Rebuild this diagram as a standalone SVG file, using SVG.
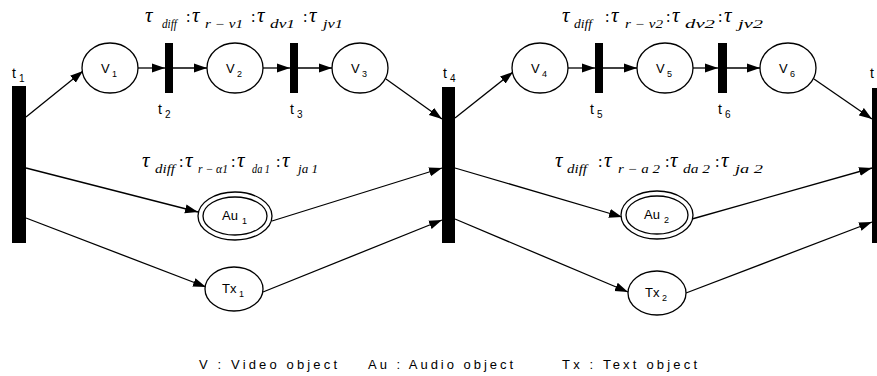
<svg xmlns="http://www.w3.org/2000/svg" width="877" height="376" viewBox="0 0 877 376">
<style>
.bar{fill:#000}
.pl{fill:#fff;stroke:#000;stroke-width:1.3}
.ar{fill:none;stroke:#000;stroke-width:1.3;marker-end:url(#ah)}
.lb{font-family:"Liberation Sans",Arial,sans-serif;font-size:13px;fill:#000}
.sb{font-family:"Liberation Sans",Arial,sans-serif;font-size:9px;fill:#000}
.tl{font-family:"Liberation Sans",Arial,sans-serif;font-size:14px;fill:#000}
.ts{font-family:"Liberation Sans",Arial,sans-serif;font-size:10px;fill:#000}
.tau{font-family:"Liberation Serif","Times New Roman",serif;font-style:italic;font-size:21px;fill:#000}
.tsub{font-family:"Liberation Serif","Times New Roman",serif;font-style:italic;font-size:12px;fill:#000}
.col{font-family:"Liberation Serif","Times New Roman",serif;font-size:16px;fill:#000}
.lg{font-family:"Liberation Sans",Arial,sans-serif;font-size:13px;fill:#000}
</style>
<defs>
<marker id="ah" markerUnits="userSpaceOnUse" markerWidth="14" markerHeight="10" refX="13" refY="5" orient="auto">
<path d="M0,0.5 L13,5 L0,9.5 Z" fill="#000"/>
</marker>
</defs>
<rect width="877" height="376" fill="#fff"/>

<g id="connectors">
<line class="ar" x1="26" y1="117" x2="83" y2="71"/>
<line class="ar" x1="138" y1="68" x2="165" y2="68"/>
<line class="ar" x1="173" y1="68" x2="207" y2="68"/>
<line class="ar" x1="263" y1="68" x2="290" y2="68"/>
<line class="ar" x1="298" y1="68" x2="332" y2="68"/>
<line class="ar" x1="386" y1="79" x2="442" y2="119"/>
<line class="ar" x1="455" y1="118" x2="513" y2="72"/>
<line class="ar" x1="568" y1="68" x2="595" y2="68"/>
<line class="ar" x1="603" y1="68" x2="637" y2="68"/>
<line class="ar" x1="693" y1="68" x2="718" y2="68"/>
<line class="ar" x1="727" y1="68" x2="760" y2="68"/>
<line class="ar" x1="814" y1="79" x2="872" y2="119"/>
<line class="ar" x1="26" y1="168" x2="198" y2="212"/>
<line class="ar" x1="26" y1="218" x2="206" y2="287"/>
<line class="ar" x1="272" y1="221" x2="442" y2="168"/>
<line class="ar" x1="263" y1="292" x2="442" y2="220"/>
<line class="ar" x1="455" y1="168" x2="622" y2="217"/>
<line class="ar" x1="455" y1="219" x2="628" y2="292"/>
<line class="ar" x1="692" y1="219" x2="872" y2="168"/>
<line class="ar" x1="686" y1="293" x2="872" y2="222"/>
</g>

<g id="t1"><rect class="bar" x="12" y="86" width="14" height="157"/><text class="tl" x="12" y="78">t</text><text class="ts" x="19" y="82">1</text></g>
<g id="t2"><rect class="bar" x="165" y="43" width="8" height="50"/><text class="tl" x="158" y="114">t</text><text class="ts" x="165" y="118">2</text></g>
<g id="t3"><rect class="bar" x="290" y="43" width="8" height="50"/><text class="tl" x="290" y="114">t</text><text class="ts" x="297" y="118">3</text></g>
<g id="t4"><rect class="bar" x="442" y="87" width="13" height="156"/><text class="tl" x="443" y="78">t</text><text class="ts" x="450" y="82">4</text></g>
<g id="t5"><rect class="bar" x="595" y="43" width="8" height="50"/><text class="tl" x="590" y="114">t</text><text class="ts" x="597" y="118">5</text></g>
<g id="t6"><rect class="bar" x="718" y="43" width="9" height="50"/><text class="tl" x="718" y="114">t</text><text class="ts" x="725" y="118">6</text></g>
<g id="t7"><rect class="bar" x="872" y="88" width="8" height="155"/><text class="tl" x="870" y="78">t</text></g>

<g id="V1"><ellipse class="pl" cx="110" cy="68" rx="28" ry="25"/><text class="lb" x="101" y="73">V</text><text class="sb" x="112" y="77">1</text></g>
<g id="V2"><ellipse class="pl" cx="235" cy="68" rx="28" ry="25"/><text class="lb" x="226" y="73">V</text><text class="sb" x="237" y="77">2</text></g>
<g id="V3"><ellipse class="pl" cx="360" cy="68" rx="28" ry="25"/><text class="lb" x="351" y="73">V</text><text class="sb" x="362" y="77">3</text></g>
<g id="V4"><ellipse class="pl" cx="540" cy="68" rx="28" ry="25"/><text class="lb" x="531" y="73">V</text><text class="sb" x="542" y="77">4</text></g>
<g id="V5"><ellipse class="pl" cx="665" cy="68" rx="28" ry="25"/><text class="lb" x="656" y="73">V</text><text class="sb" x="667" y="77">5</text></g>
<g id="V6"><ellipse class="pl" cx="788" cy="68" rx="28" ry="25"/><text class="lb" x="779" y="73">V</text><text class="sb" x="790" y="77">6</text></g>

<g id="Au1"><ellipse class="pl" cx="235" cy="216" rx="37" ry="24"/><ellipse class="pl" cx="235" cy="216" rx="32" ry="19"/><text class="lb" x="222" y="220">Au</text><text class="sb" x="242" y="224">1</text></g>
<g id="Tx1"><ellipse class="pl" cx="234" cy="289" rx="29" ry="22"/><text class="lb" x="222" y="293">Tx</text><text class="sb" x="239" y="297">1</text></g>
<g id="Au2"><ellipse class="pl" cx="657" cy="215" rx="36" ry="24"/><ellipse class="pl" cx="657" cy="215" rx="31" ry="19"/><text class="lb" x="644" y="219">Au</text><text class="sb" x="664" y="223">2</text></g>
<g id="Tx2"><ellipse class="pl" cx="657" cy="293" rx="29" ry="22"/><text class="lb" x="645" y="297">Tx</text><text class="sb" x="662" y="301">2</text></g>

<g id="label-v1">
<text class="tau" x="145" y="22">τ</text><text class="tsub" x="162" y="28" textLength="15" lengthAdjust="spacingAndGlyphs">diff</text>
<text class="col" x="186" y="22">:</text><text class="tau" x="192" y="22">τ</text><text class="tsub" x="205" y="28" textLength="38" lengthAdjust="spacingAndGlyphs">r − v1</text>
<text class="col" x="251" y="22">:</text><text class="tau" x="257" y="22">τ</text><text class="tsub" x="270" y="28" textLength="25" lengthAdjust="spacingAndGlyphs">dv1</text>
<text class="col" x="303" y="22">:</text><text class="tau" x="309" y="22">τ</text><text class="tsub" x="323" y="28" textLength="20" lengthAdjust="spacingAndGlyphs">jv1</text>
</g>
<g id="label-v2">
<text class="tau" x="562" y="22">τ</text><text class="tsub" x="574" y="28" textLength="18" lengthAdjust="spacingAndGlyphs">diff</text>
<text class="col" x="605" y="22">:</text><text class="tau" x="611" y="22">τ</text><text class="tsub" x="625" y="28" textLength="38" lengthAdjust="spacingAndGlyphs">r − v2</text>
<text class="col" x="666" y="22">:</text><text class="tau" x="672" y="22">τ</text><text class="tsub" x="685" y="28" textLength="30" lengthAdjust="spacingAndGlyphs">dv2</text>
<text class="col" x="718" y="22">:</text><text class="tau" x="724" y="22">τ</text><text class="tsub" x="738" y="28" textLength="25" lengthAdjust="spacingAndGlyphs">jv2</text>
</g>
<g id="label-a1">
<text class="tau" x="142" y="167">τ</text><text class="tsub" x="155" y="173" textLength="20" lengthAdjust="spacingAndGlyphs">diff</text>
<text class="col" x="179" y="167">:</text><text class="tau" x="185" y="167">τ</text><text class="tsub" x="198" y="173" textLength="30" lengthAdjust="spacingAndGlyphs">r − α1</text>
<text class="col" x="231" y="167">:</text><text class="tau" x="237" y="167">τ</text><text class="tsub" x="252" y="173" textLength="18" lengthAdjust="spacingAndGlyphs">da 1</text>
<text class="col" x="276" y="167">:</text><text class="tau" x="282" y="167">τ</text><text class="tsub" x="298" y="173" textLength="20" lengthAdjust="spacingAndGlyphs">ja 1</text>
</g>
<g id="label-a2">
<text class="tau" x="555" y="167">τ</text><text class="tsub" x="567" y="173" textLength="20" lengthAdjust="spacingAndGlyphs">diff</text>
<text class="col" x="598" y="167">:</text><text class="tau" x="604" y="167">τ</text><text class="tsub" x="618" y="173" textLength="42" lengthAdjust="spacingAndGlyphs">r − a 2</text>
<text class="col" x="665" y="167">:</text><text class="tau" x="670" y="167">τ</text><text class="tsub" x="683" y="173" textLength="27" lengthAdjust="spacingAndGlyphs">da 2</text>
<text class="col" x="715" y="167">:</text><text class="tau" x="721" y="167">τ</text><text class="tsub" x="735" y="173" textLength="28" lengthAdjust="spacingAndGlyphs">ja 2</text>
</g>

<g id="legend">
<text class="lg" x="199" y="369" textLength="138" lengthAdjust="spacing">V : Video object</text>
<text class="lg" x="368" y="369" textLength="145" lengthAdjust="spacing">Au : Audio object</text>
<text class="lg" x="562" y="369" textLength="135" lengthAdjust="spacing">Tx : Text object</text>
</g>
</svg>
